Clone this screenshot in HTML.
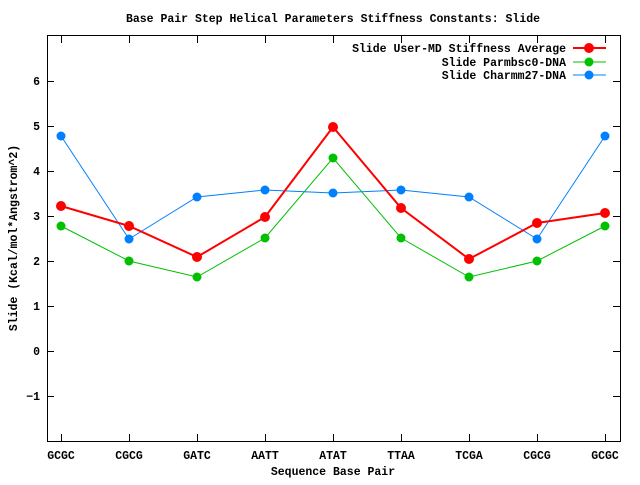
<!DOCTYPE html>
<html><head><meta charset="utf-8"><style>
body{margin:0;background:#fff}
svg text{font-family:"Liberation Mono","DejaVu Sans Mono",monospace;font-size:11.5px;font-weight:bold;fill:#000}
</style></head><body>
<svg width="640" height="480" viewBox="0 0 640 480" xmlns="http://www.w3.org/2000/svg">
<rect width="640" height="480" fill="#fff"/>
<text x="333" y="22" text-anchor="middle">Base Pair Step Helical Parameters Stiffness Constants: Slide</text>
<rect x="47.5" y="35.5" width="573" height="406" fill="none" stroke="#000"/>
<g stroke="#000">
<line x1="47" y1="81.5" x2="54" y2="81.5"/><line x1="620" y1="81.5" x2="613" y2="81.5"/>
<line x1="47" y1="126.5" x2="54" y2="126.5"/><line x1="620" y1="126.5" x2="613" y2="126.5"/>
<line x1="47" y1="171.5" x2="54" y2="171.5"/><line x1="620" y1="171.5" x2="613" y2="171.5"/>
<line x1="47" y1="216.5" x2="54" y2="216.5"/><line x1="620" y1="216.5" x2="613" y2="216.5"/>
<line x1="47" y1="261.5" x2="54" y2="261.5"/><line x1="620" y1="261.5" x2="613" y2="261.5"/>
<line x1="47" y1="306.5" x2="54" y2="306.5"/><line x1="620" y1="306.5" x2="613" y2="306.5"/>
<line x1="47" y1="351.5" x2="54" y2="351.5"/><line x1="620" y1="351.5" x2="613" y2="351.5"/>
<line x1="47" y1="396.5" x2="54" y2="396.5"/><line x1="620" y1="396.5" x2="613" y2="396.5"/>
<line x1="61.5" y1="441" x2="61.5" y2="434"/><line x1="129.5" y1="441" x2="129.5" y2="434"/>
<line x1="197.5" y1="441" x2="197.5" y2="434"/><line x1="265.5" y1="441" x2="265.5" y2="434"/>
<line x1="333.5" y1="441" x2="333.5" y2="434"/><line x1="401.5" y1="441" x2="401.5" y2="434"/>
<line x1="469.5" y1="441" x2="469.5" y2="434"/><line x1="537.5" y1="441" x2="537.5" y2="434"/>
<line x1="605.5" y1="441" x2="605.5" y2="434"/>
<line x1="61.5" y1="36" x2="61.5" y2="43"/><line x1="129.5" y1="36" x2="129.5" y2="43"/>
<line x1="197.5" y1="36" x2="197.5" y2="43"/><line x1="265.5" y1="36" x2="265.5" y2="43"/>
<line x1="333.5" y1="36" x2="333.5" y2="43"/><line x1="401.5" y1="36" x2="401.5" y2="43"/>
<line x1="469.5" y1="36" x2="469.5" y2="43"/><line x1="537.5" y1="36" x2="537.5" y2="43"/>
<line x1="605.5" y1="36" x2="605.5" y2="43"/>
</g>
<g text-anchor="end">
<text x="40" y="85">6</text><text x="40" y="130">5</text><text x="40" y="175">4</text>
<text x="40" y="220">3</text><text x="40" y="265">2</text><text x="40" y="310">1</text>
<text x="40" y="355">0</text><text x="40" y="400">−1</text>
</g>
<g text-anchor="middle">
<text x="61" y="459">GCGC</text><text x="129" y="459">CGCG</text><text x="197" y="459">GATC</text>
<text x="265" y="459">AATT</text><text x="333" y="459">ATAT</text><text x="401" y="459">TTAA</text>
<text x="469" y="459">TCGA</text><text x="537" y="459">CGCG</text><text x="605" y="459">GCGC</text>
<text x="333" y="475">Sequence Base Pair</text>
</g>
<text transform="translate(17,238) rotate(-90)" text-anchor="middle">Slide (Kcal/mol*Angstrom^2)</text>
<g fill="none">
<polyline stroke="#00c000" stroke-width="1" points="61,226 129,261 197,277 265,238 333,158 401,238 469,277 537,261 605,226"/>
<polyline stroke="#0080ff" stroke-width="1" points="61,136 129,239 197,197 265,190 333,193 401,190 469,197 537,239 605,136"/>
<polyline stroke="#ff0000" stroke-width="2" points="61,206 129,226 197,257 265,217 333,127 401,208 469,259 537,223 605,213"/>
</g>
<g fill="#00c000">
<circle cx="61" cy="226" r="4.5"/><circle cx="129" cy="261" r="4.5"/><circle cx="197" cy="277" r="4.5"/><circle cx="265" cy="238" r="4.5"/><circle cx="333" cy="158" r="4.5"/><circle cx="401" cy="238" r="4.5"/><circle cx="469" cy="277" r="4.5"/><circle cx="537" cy="261" r="4.5"/><circle cx="605" cy="226" r="4.5"/>
</g>
<g fill="#0080ff">
<circle cx="61" cy="136" r="4.5"/><circle cx="129" cy="239" r="4.5"/><circle cx="197" cy="197" r="4.5"/><circle cx="265" cy="190" r="4.5"/><circle cx="333" cy="193" r="4.5"/><circle cx="401" cy="190" r="4.5"/><circle cx="469" cy="197" r="4.5"/><circle cx="537" cy="239" r="4.5"/><circle cx="605" cy="136" r="4.5"/>
</g>
<g fill="#ff0000">
<circle cx="61" cy="206" r="5"/><circle cx="129" cy="226" r="5"/><circle cx="197" cy="257" r="5"/><circle cx="265" cy="217" r="5"/><circle cx="333" cy="127" r="5"/><circle cx="401" cy="208" r="5"/><circle cx="469" cy="259" r="5"/><circle cx="537" cy="223" r="5"/><circle cx="605" cy="213" r="5"/>
</g>
<g text-anchor="end">
<text x="566" y="52">Slide User-MD Stiffness Average</text>
<text x="566" y="66">Slide Parmbsc0-DNA</text>
<text x="566" y="79">Slide Charmm27-DNA</text>
</g>
<line x1="573" y1="48" x2="606" y2="48" stroke="#ff0000" stroke-width="2"/><circle cx="589" cy="48" r="5" fill="#ff0000"/>
<line x1="573" y1="62" x2="606" y2="62" stroke="#00c000"/><circle cx="589" cy="62" r="4.5" fill="#00c000"/>
<line x1="573" y1="75" x2="606" y2="75" stroke="#0080ff"/><circle cx="589" cy="75" r="4.5" fill="#0080ff"/>
</svg>
</body></html>
